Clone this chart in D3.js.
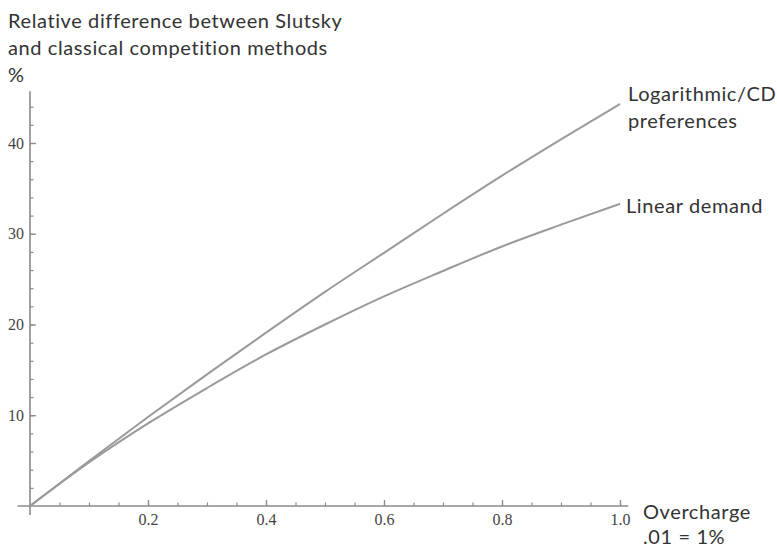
<!DOCTYPE html>
<html>
<head>
<meta charset="utf-8">
<script src="https://cdn.jsdelivr.net/npm/d3@7"></script>
<style>
  html, body { margin: 0; padding: 0; background: #fff; }
  svg { display: block; }
</style>
</head>
<body>
<svg id="chart" width="777" height="547"></svg>
<script>
// ---- data ----
const overcharge = [0, 0.1, 0.2, 0.3, 0.4, 0.5, 0.6, 0.7, 0.8, 0.9, 1.0];
const logCD      = [0, 4.95, 9.8, 14.5, 19.1, 23.6, 27.9, 32.2, 36.4, 40.4, 44.3];
const linearDem  = [0, 4.8, 9.1, 13.0, 16.7, 20.0, 23.1, 25.9, 28.6, 31.0, 33.3];
const xMajorTicks = [0.2, 0.4, 0.6, 0.8, 1.0];
const yMajorTicks = [10, 20, 30, 40];
const xMinorTicks = d3.range(1, 21).map(i => i * 0.05);
const yMinorTicks = d3.range(1, 23).map(i => i * 2);
const yTitleLines = ["Relative difference between Slutsky", "and classical competition methods", "%"];
const xTitleLines = ["Overcharge", ".01 = 1%"];
const seriesLabels = [
  { lines: ["Logarithmic/CD", "preferences"], data: logCD },
  { lines: ["Linear demand"], data: linearDem }
];

const svg = d3.select("#chart");
const x = d3.scaleLinear().domain([0, 1]).range([30, 620]);
const y = d3.scaleLinear().domain([0, 40]).range([506, 143]);

const axisColor = "#8a8a8a";
const labelFont = "'Liberation Serif', 'DejaVu Serif', serif";
const textFont = "Lato, 'Open Sans', sans-serif";

// minor ticks
svg.append("g").attr("transform", `translate(0,${y(0)})`)
  .call(d3.axisBottom(x).tickValues(xMinorTicks).tickSizeInner(-3.5).tickSizeOuter(0).tickFormat(""))
  .call(g => g.select(".domain").remove())
  .call(g => g.selectAll("line").attr("stroke", axisColor).attr("stroke-width", 1.2));
svg.append("g").attr("transform", `translate(${x(0)},0)`)
  .call(d3.axisLeft(y).tickValues(yMinorTicks).tickSizeInner(-3.5).tickSizeOuter(0).tickFormat(""))
  .call(g => g.select(".domain").remove())
  .call(g => g.selectAll("line").attr("stroke", axisColor).attr("stroke-width", 1.2));

// major ticks + labels
svg.append("g").attr("transform", `translate(0,${y(0)})`)
  .call(d3.axisBottom(x).tickValues(xMajorTicks).tickSizeInner(-6).tickSizeOuter(0).tickPadding(8).tickFormat(d3.format(".1f")))
  .attr("font-family", labelFont).attr("font-size", 16)
  .call(g => g.select(".domain").remove())
  .call(g => g.selectAll("line").attr("stroke", axisColor).attr("stroke-width", 1.3))
  .call(g => g.selectAll("text").attr("fill", "#444"));
svg.append("g").attr("transform", `translate(${x(0)},0)`)
  .call(d3.axisLeft(y).tickValues(yMajorTicks).tickSizeInner(-6).tickSizeOuter(0).tickPadding(6).tickFormat(d3.format("d")))
  .attr("font-family", labelFont).attr("font-size", 16)
  .call(g => g.select(".domain").remove())
  .call(g => g.selectAll("line").attr("stroke", axisColor).attr("stroke-width", 1.3))
  .call(g => g.selectAll("text").attr("fill", "#444"));

// axis lines
svg.append("line").attr("x1", x(-0.021)).attr("x2", x(1.014)).attr("y1", y(0)).attr("y2", y(0))
  .attr("stroke", axisColor).attr("stroke-width", 1.6);
svg.append("line").attr("x1", x(0)).attr("x2", x(0)).attr("y1", y(-1)).attr("y2", y(45.7))
  .attr("stroke", axisColor).attr("stroke-width", 1.6);

// curves
const line = d3.line().curve(d3.curveMonotoneX);
seriesLabels.forEach(s => {
  svg.append("path")
    .attr("d", line(overcharge.map((v, i) => [x(v), y(s.data[i])])))
    .attr("fill", "none").attr("stroke", "#9a9a9a").attr("stroke-width", 2);
});

// text helper
const fs = 20;
function block(lines, x0, y0, dy) {
  const t = svg.append("text").attr("font-family", textFont).attr("font-size", fs).attr("fill", "#333");
  lines.forEach((l, i) => t.append("tspan").attr("x", x0).attr("y", y0 + i * dy).text(l));
  return t;
}
const title = block(yTitleLines, 8, 28, 27);
block(seriesLabels[0].lines, 628, 101, 27);
block(seriesLabels[1].lines, 626, 213, 27);
block(xTitleLines, 643, 519, 25);

// match reference text width via letter spacing
const first = title.select("tspan").node();
const w = first.getComputedTextLength();
const n = yTitleLines[0].length;
const ls = (334 - w) / n;
svg.selectAll("text").filter(function() { return this.getAttribute("font-family") === textFont; })
  .attr("letter-spacing", ls);
</script>
</body>
</html>
